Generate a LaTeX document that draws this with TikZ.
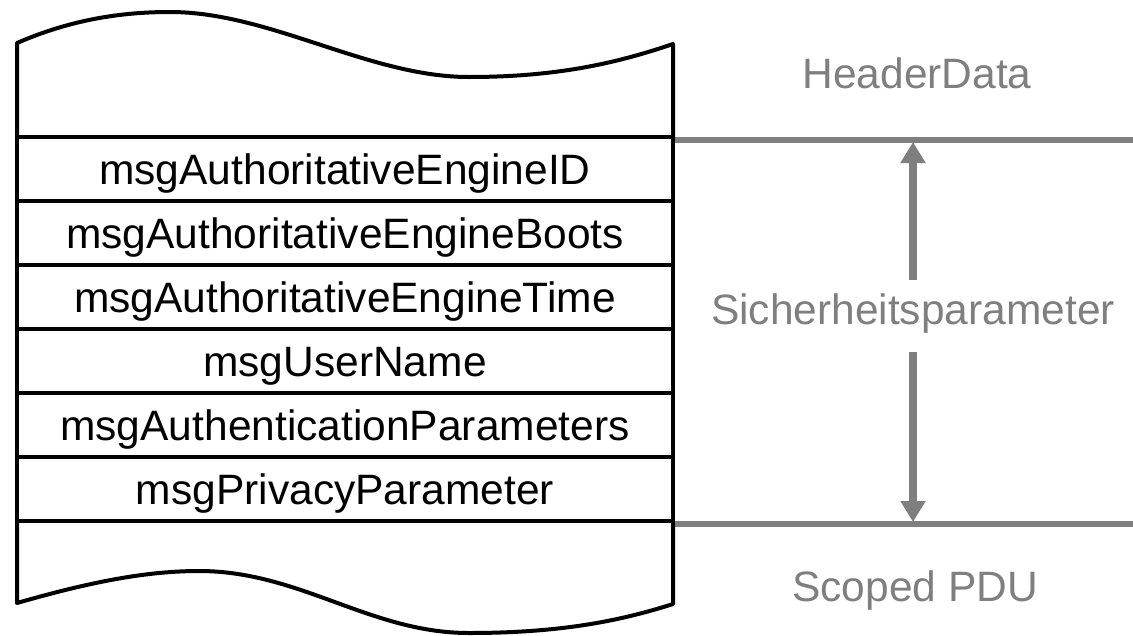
\documentclass[tikz,border=0pt]{standalone}
\usepackage{fontspec}
\setmainfont{Liberation Sans}
\usetikzlibrary{arrows.meta}
\definecolor{markgray}{HTML}{7F7F7F}
\tikzset{
  field/.style={draw=black, line width=4pt, minimum width=656pt, minimum height=64pt,
    inner sep=0pt, text height=30.5pt, text depth=0pt,
    font=\fontsize{42.5}{50}\selectfont},
  sidelabel/.style={inner sep=0pt, text height=30.5pt, text depth=0pt, text=markgray,
    font=\fontsize{42.5}{50}\selectfont},
  edge/.style={draw=black, line width=4pt, line join=round},
  bound/.style={draw=markgray, line width=6pt},
  span/.style={draw=markgray, line width=8pt, -{Triangle[length=21pt,width=24pt]}}
}
\begin{document}
\begin{tikzpicture}[x=1pt, y=-1pt]
\useasboundingbox (0,0) rectangle (1133,635);

% header part of the message, open at the top
\path[edge] (17,137) -- (17,43)
  .. controls (70,20) and (120,12) .. (170,12)
  .. controls (270,12) and (369,77) .. (469,77)
  .. controls (560,77) and (620,62) .. (673,44) -- (673,137);

% security parameter fields
\node[field] (r1) at (345,169) {msgAuthoritativeEngineID};
\node[field] (r2) at (345,233) {msgAuthoritativeEngineBoots};
\node[field] (r3) at (345,297) {msgAuthoritativeEngineTime};
\node[field] (r4) at (345,361) {msgUserName};
\node[field] (r5) at (345,425) {msgAuthenticationParameters};
\node[field] (r6) at (345,489) {msgPrivacyParameter};

% scoped PDU part, open at the bottom
\path[edge] (17,521) -- (17,603)
  .. controls (80,585) and (140,571) .. (199,571)
  .. controls (300,571) and (370,633) .. (469,633)
  .. controls (560,633) and (620,621) .. (673,604) -- (673,521);

% boundary marks of the security parameters
\coordinate (tl) at (675,140.3);
\coordinate (tr) at (1133,140.3);
\coordinate (bl) at (675,524.3);
\coordinate (br) at (1133,524.3);
\draw[bound] (tl) -- (tr);
\draw[bound] (bl) -- (br);

% labels
\node[sidelabel] (hd) at (917,73.5) {HeaderData};
\node[sidelabel] (sp) at (913,309.5) {Sicherheitsparameter};
\node[sidelabel] (pdu) at (915,586.5) {Scoped PDU};

\coordinate (ta) at (913,142);
\coordinate (tb) at (913,522);
\draw[span] ([yshift=14pt]sp.north) -- (ta);
\draw[span] ([yshift=-27pt]sp.south) -- (tb);
\end{tikzpicture}
\end{document}
